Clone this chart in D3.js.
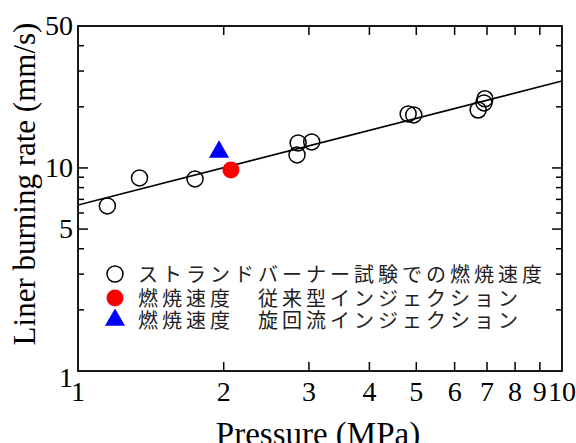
<!DOCTYPE html>
<html>
<head>
<meta charset="utf-8">
<script src="https://cdn.jsdelivr.net/npm/d3@7/dist/d3.min.js"></script>
<style>
  html, body { margin: 0; padding: 0; background: #fff; }
  svg { display: block; }
</style>
</head>
<body>
<svg id="chart" width="576" height="443"></svg>
<script>
// ---- data ----
const strandP = [1.15, 1.34, 1.745, 2.85, 3.04, 2.835, 4.81, 4.94, 6.93, 6.90, 6.71];
const strandR = [6.5, 8.93, 8.83, 13.28, 13.43, 11.59, 18.45, 18.24, 21.9, 20.9, 19.3];
const convP = [2.07];
const convR = [9.78];
const swirlP = [1.956];
const swirlR = [12.0];
const fitP = [1, 10];
const fitR = [6.57, 26.8];
const xTicks = [1, 2, 3, 4, 5, 6, 7, 8, 9, 10];
const yMajor = [1, 5, 10, 50];
const yMinor = [2, 3, 4, 6, 7, 8, 9, 20, 30, 40];
const legendLabels = [
  "ストランドバーナー試験での燃焼速度",
  "燃焼速度　従来型インジェクション",
  "燃焼速度　旋回流インジェクション"
];

// ---- layout ----
const L = 78, R = 562, T = 26, B = 371;
const svg = d3.select("#chart");
const x = d3.scaleLog().domain([1, 10]).range([L, R]);
const y = d3.scaleLog().domain([1, 50]).range([B, T]);
const serif = "'Liberation Serif', 'Times New Roman', serif";
const jp = "'Noto Sans CJK JP', sans-serif";

// fit line (clipped)
svg.append("defs").append("clipPath").attr("id", "clip")
  .append("rect").attr("x", L).attr("y", T).attr("width", R - L).attr("height", B - T);
const line = d3.line().x(d => x(d[0])).y(d => y(d[1]));
svg.append("path")
  .attr("d", line(fitP.map((p, i) => [p, fitR[i]])))
  .attr("fill", "none").attr("stroke", "#000").attr("stroke-width", 1.6)
  .attr("clip-path", "url(#clip)");

// frame
svg.append("rect").attr("x", L).attr("y", T).attr("width", R - L).attr("height", B - T)
  .attr("fill", "none").attr("stroke", "#000").attr("stroke-width", 1.8);

// x ticks (inward, bottom & top)
const xt = xTicks.filter(d => d > 1 && d < 10);
svg.append("g").selectAll("line").data(xt).join("line")
  .attr("x1", d => x(d)).attr("x2", d => x(d)).attr("y1", B).attr("y2", B - 9)
  .attr("stroke", "#000").attr("stroke-width", 1.5);
svg.append("g").selectAll("line").data(xt).join("line")
  .attr("x1", d => x(d)).attr("x2", d => x(d)).attr("y1", T).attr("y2", T + 9)
  .attr("stroke", "#000").attr("stroke-width", 1.5);

// y ticks (inward, left & right)
const yt = yMajor.filter(d => d > 1 && d < 50).map(d => ({v: d, len: 10}))
  .concat(yMinor.map(d => ({v: d, len: 6})));
svg.append("g").selectAll("line").data(yt).join("line")
  .attr("x1", L).attr("x2", d => L + d.len).attr("y1", d => y(d.v)).attr("y2", d => y(d.v))
  .attr("stroke", "#000").attr("stroke-width", 1.5);
svg.append("g").selectAll("line").data(yt).join("line")
  .attr("x1", R).attr("x2", d => R - d.len).attr("y1", d => y(d.v)).attr("y2", d => y(d.v))
  .attr("stroke", "#000").attr("stroke-width", 1.5);

// tick labels
svg.append("g").selectAll("text").data(xTicks).join("text")
  .attr("x", d => x(d)).attr("y", 401)
  .attr("text-anchor", "middle")
  .attr("font-family", serif).attr("font-size", 28)
  .text(d => d);
svg.append("g").selectAll("text").data(yMajor).join("text")
  .attr("x", 73).attr("y", d => y(d) + (d === 1 ? 16 : 9))
  .attr("text-anchor", "end")
  .attr("font-family", serif).attr("font-size", 28)
  .text(d => d);

// axis titles
svg.append("text").attr("x", 318).attr("y", 445)
  .attr("text-anchor", "middle").attr("font-family", serif).attr("font-size", 33)
  .text("Pressure (MPa)");
svg.append("text")
  .attr("transform", "translate(35,184) rotate(-90)")
  .attr("text-anchor", "middle").attr("font-family", serif).attr("font-size", 31)
  .text("Liner burning rate (mm/s)");

// data marks
svg.append("g").selectAll("circle").data(strandP.map((p, i) => [p, strandR[i]])).join("circle")
  .attr("cx", d => x(d[0])).attr("cy", d => y(d[1])).attr("r", 8)
  .attr("fill", "#fff").attr("fill-opacity", 0).attr("stroke", "#000").attr("stroke-width", 1.5);
svg.append("g").selectAll("circle").data(convP.map((p, i) => [p, convR[i]])).join("circle")
  .attr("cx", d => x(d[0])).attr("cy", d => y(d[1])).attr("r", 8.5)
  .attr("fill", "#ff0000");
const tri = d3.symbol().type(d3.symbolTriangle).size(175);
svg.append("g").selectAll("path").data(swirlP.map((p, i) => [p, swirlR[i]])).join("path")
  .attr("d", tri)
  .attr("transform", d => `translate(${x(d[0])},${y(d[1])})`)
  .attr("fill", "#0000ff");

// legend
const ly = [274, 298, 320];
const lg = svg.append("g");
lg.append("circle").attr("cx", 115).attr("cy", ly[0]).attr("r", 8)
  .attr("fill", "#fff").attr("stroke", "#000").attr("stroke-width", 1.5);
lg.append("circle").attr("cx", 115).attr("cy", ly[1]).attr("r", 8.5).attr("fill", "#ff0000");
lg.append("path").attr("d", tri).attr("transform", `translate(115,${ly[2]})`).attr("fill", "#0000ff");
lg.selectAll("text").data(legendLabels).join("text")
  .attr("x", 138).attr("y", (d, i) => ly[i] + 8)
  .attr("font-family", jp).attr("font-size", 20).attr("letter-spacing", 4)
  .attr("fill", "#222")
  .text(d => d);
</script>
</body>
</html>
